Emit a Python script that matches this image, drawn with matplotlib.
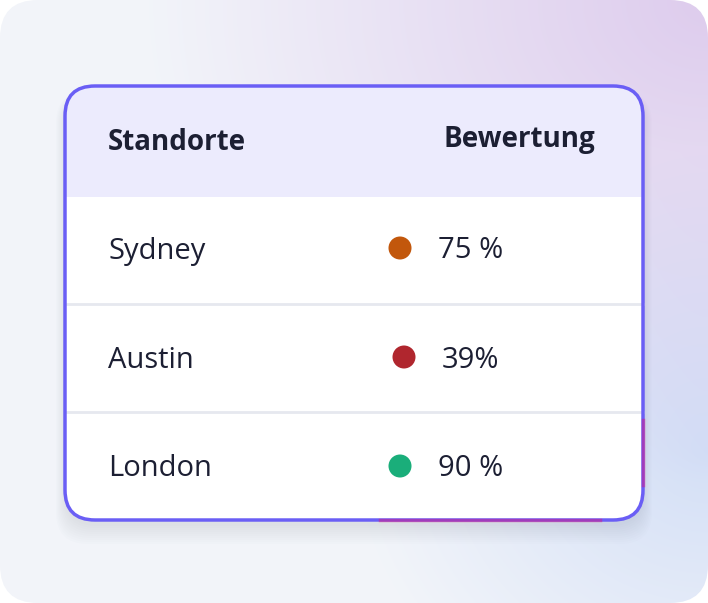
import matplotlib
matplotlib.use("Agg")
import matplotlib.pyplot as plt
import numpy as np
from matplotlib.patches import FancyBboxPatch, Rectangle, Circle

headers = ["Standorte", "Bewertung"]
cities = ["Sydney", "Austin", "London"]
ratings = ["75 %", "39%", "90 %"]
dot_colors = ["#c2570c", "#b0262e", "#1aae7a"]

W, H = 708, 603
fig = plt.figure(figsize=(W/100, H/100), dpi=100)
ax = fig.add_axes([0, 0, 1, 1])
ax.set_xlim(0, W); ax.set_ylim(H, 0); ax.axis("off")
fam = ["Open Sans", "DejaVu Sans"]

yy, xx = np.mgrid[0:H, 0:W] / np.array([H, W])[:, None, None]
base = np.array([0.95, 0.96, 0.98])
purple = np.array([0.87, 0.80, 0.93])
blue = np.array([0.78, 0.84, 0.96])
wp = np.clip(1 - np.hypot(xx - 1, yy) / 0.8, 0, 1)[..., None]
wb = np.clip(1 - np.hypot(xx - 1, yy - 0.75) / 0.5, 0, 1)[..., None]
img = base * (1 - wp - wb * 0.7).clip(0) + purple * wp + blue * wb * 0.7
img = np.clip(img, 0, 1)
bg = FancyBboxPatch((0, 0), W, H, boxstyle="round,pad=0,rounding_size=38", fc="none", ec="none")
ax.add_patch(bg)
im = ax.imshow(img, extent=(0, W, H, 0), zorder=0)
im.set_clip_path(bg)

for i in range(10):
    s = FancyBboxPatch((65 - i*1, 96 - i*0.5), 578 + i*2, 430 + i*2.5,
                       boxstyle="round,pad=0,rounding_size=32", fc="#8a8fb0",
                       ec="none", alpha=0.02, zorder=1)
    ax.add_patch(s)

x0, y0, x1, y1 = 65, 86, 643, 520
card = FancyBboxPatch((x0, y0), x1 - x0, y1 - y0, boxstyle="round,pad=0,rounding_size=30",
                      fc="white", ec="none", zorder=2)
ax.add_patch(card)
hdr = Rectangle((x0, y0), x1 - x0, 111, fc="#ecebfd", ec="none", zorder=3)
ax.add_patch(hdr); hdr.set_clip_path(card)
for ys in [304, 412]:
    ax.plot([x0, x1], [ys, ys], color="#e6e8ef", lw=2, zorder=3)
border = FancyBboxPatch((x0, y0), x1 - x0, y1 - y0, boxstyle="round,pad=0,rounding_size=30",
                        fc="none", ec="#6a5ef5", lw=2.5, zorder=5)
ax.add_patch(border)
ax.plot([380, 600], [520, 520], color="#e0147a", lw=2.5, alpha=0.45, zorder=5)
ax.plot([643, 643], [420, 485], color="#e0147a", lw=2.5, alpha=0.45, zorder=5)

t = ax.text(108, 142, headers[0], fontsize=20, fontweight="bold", color="#1c1f33",
            va="center", family=fam, zorder=6)
clip = Rectangle((60, 90), 195, 100, transform=ax.transData)
t.set_clip_path(clip)
ax.text(595, 140, headers[1], fontsize=20, fontweight="bold", color="#1c1f33",
        va="center", ha="right", family=fam, zorder=6)

rows_y = [251, 360, 469]
for y, c, r, col in zip(rows_y, cities, ratings, dot_colors):
    ax.text(108, y, c, fontsize=21, color="#1c1f33", va="center", family=fam, zorder=6)
    shift = 4 if " " not in r else 0
    ax.add_patch(Circle((400 + shift, y - 3), 11.5, fc=col, ec="none", zorder=6))
    ax.text(438 + shift, y, r, fontsize=21, color="#1c1f33", va="center", family=fam, zorder=6)

fig.savefig("out.png", dpi=100)
